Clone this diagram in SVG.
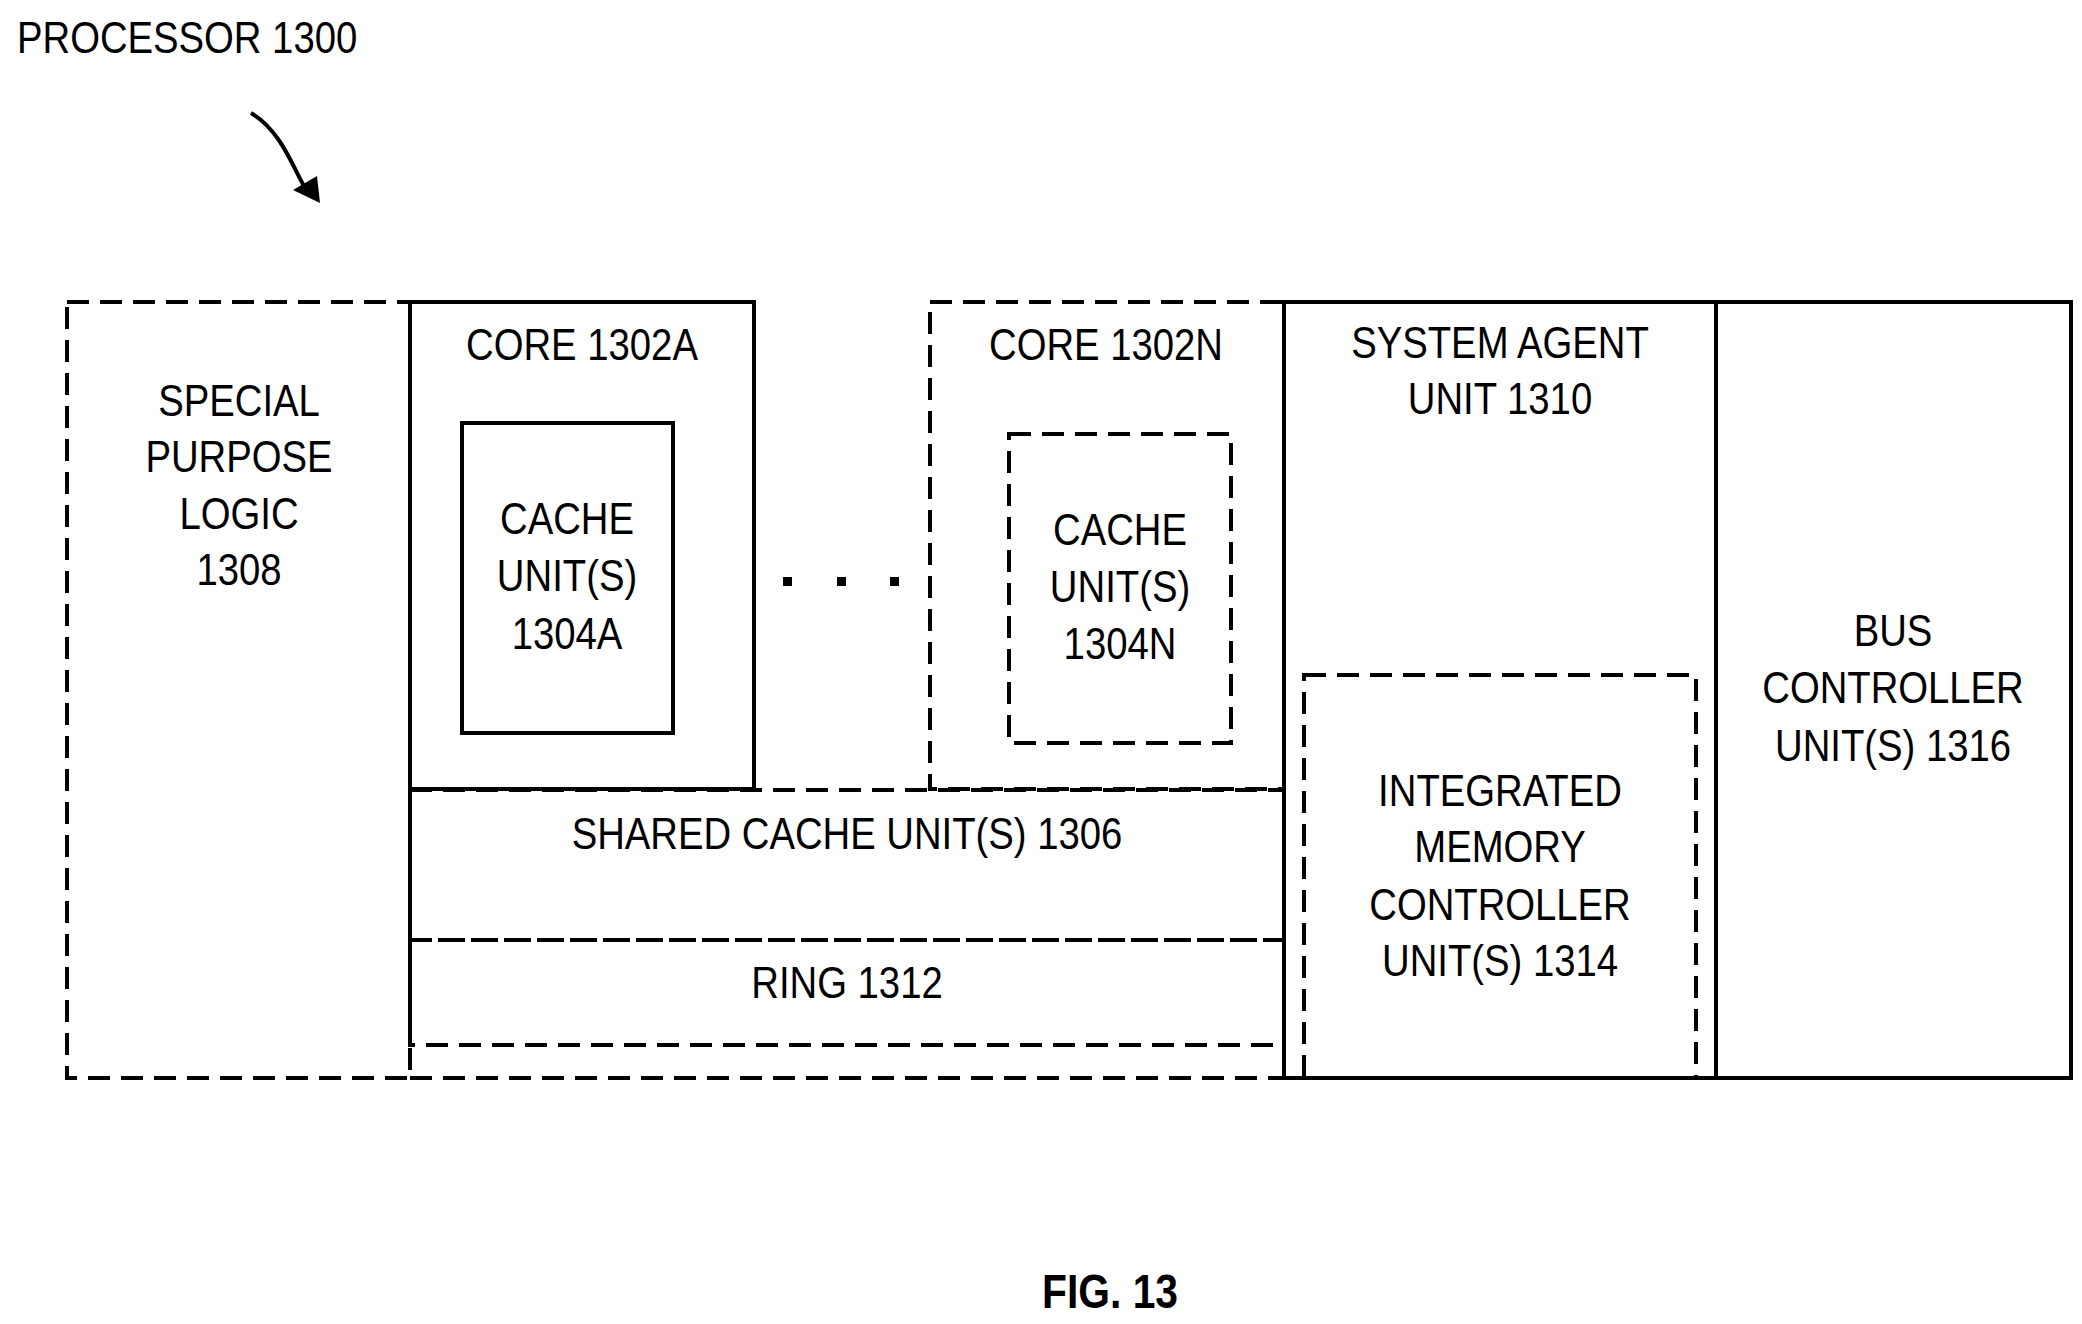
<svg xmlns="http://www.w3.org/2000/svg" width="2082" height="1324" viewBox="0 0 2082 1324">
<style>
.s{fill:none;stroke:#000;stroke-width:4}
.d{fill:none;stroke:#000;stroke-width:4;stroke-dasharray:22 11}
text{font-family:"Liberation Sans Narrow","Liberation Sans",Arial,sans-serif;font-size:44px;fill:#000;text-anchor:middle}
</style>
<rect width="2082" height="1324" fill="#fff"/>
<text transform="translate(17 53) scale(0.87 1)" style="text-anchor:start">PROCESSOR 1300</text>
<g id="connectors"><path class="s" d="M251,113 C280,130 292,165 304,186"/>
<path d="M293,190 L320,203 L317,176 z" fill="#000"/></g>
<g id="spl"><rect class="d" x="67" y="302" width="343" height="776"/><text transform="translate(239 416) scale(0.87 1)">SPECIAL</text><text transform="translate(239 472) scale(0.87 1)">PURPOSE</text><text transform="translate(239 529) scale(0.87 1)">LOGIC</text><text transform="translate(239 585) scale(0.87 1)">1308</text></g>
<g id="coreA"><rect class="s" x="410" y="302" width="344" height="487"/><text transform="translate(582 360) scale(0.87 1)">CORE 1302A</text></g>
<g id="cacheA"><rect class="s" x="462" y="423" width="211" height="310"/><text transform="translate(567 534) scale(0.87 1)">CACHE</text><text transform="translate(567 591) scale(0.87 1)">UNIT(S)</text><text transform="translate(567 649) scale(0.87 1)">1304A</text></g>
<g id="dots"><rect x="783" y="577" width="9" height="9"/><rect x="837" y="577" width="9" height="9"/><rect x="890" y="577" width="9" height="9"/></g>
<g id="coreN"><rect class="d" x="930" y="302" width="354" height="487"/><text transform="translate(1106 360) scale(0.87 1)">CORE 1302N</text></g>
<g id="cacheN"><rect class="d" x="1009" y="434" width="222" height="309"/><text transform="translate(1120 545) scale(0.87 1)">CACHE</text><text transform="translate(1120 602) scale(0.87 1)">UNIT(S)</text><text transform="translate(1120 659) scale(0.87 1)">1304N</text></g>
<g id="shared"><rect class="d" x="410" y="790" width="874" height="150"/><text transform="translate(847 849) scale(0.87 1)">SHARED CACHE UNIT(S) 1306</text></g>
<g id="ring"><rect class="d" x="410" y="940" width="874" height="105"/><text transform="translate(847 998) scale(0.87 1)">RING 1312</text><path class="d" d="M410,1078 H1284"/></g>
<g id="sa"><rect class="s" x="1284" y="302" width="432" height="776"/><text transform="translate(1500 358) scale(0.87 1)">SYSTEM AGENT</text><text transform="translate(1500 414) scale(0.87 1)">UNIT 1310</text></g>
<g id="imc"><rect class="d" x="1304" y="675" width="392" height="403"/><text transform="translate(1500 806) scale(0.87 1)">INTEGRATED</text><text transform="translate(1500 862) scale(0.87 1)">MEMORY</text><text transform="translate(1500 920) scale(0.87 1)">CONTROLLER</text><text transform="translate(1500 976) scale(0.87 1)">UNIT(S) 1314</text></g>
<g id="bus"><rect class="s" x="1716" y="302" width="355" height="776"/><text transform="translate(1893 646) scale(0.87 1)">BUS</text><text transform="translate(1893 703) scale(0.87 1)">CONTROLLER</text><text transform="translate(1893 761) scale(0.87 1)">UNIT(S) 1316</text></g>
<text transform="translate(1110 1308) scale(0.85 1)" style="font-weight:bold;font-size:48px">FIG. 13</text>
</svg>
